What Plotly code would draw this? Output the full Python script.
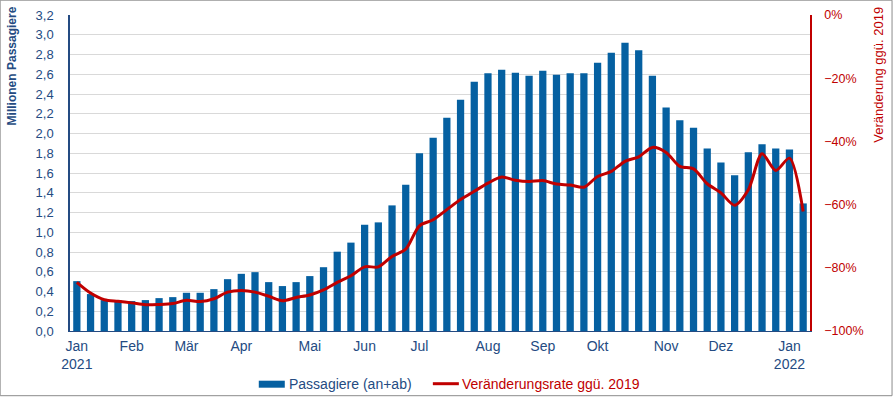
import plotly.graph_objects as go

# --- data -------------------------------------------------------------
week_index = list(range(54))
passengers_mio = [
    0.505, 0.374, 0.313, 0.313, 0.303, 0.313, 0.333, 0.343, 0.387, 0.387,
    0.424, 0.525, 0.579, 0.596, 0.495, 0.455, 0.495, 0.556, 0.646, 0.803,
    0.895, 1.076, 1.100, 1.272, 1.481, 1.799, 1.957, 2.160, 2.342, 2.525,
    2.609, 2.646, 2.616, 2.585, 2.636, 2.595, 2.609, 2.609, 2.717, 2.818,
    2.919, 2.842, 2.585, 2.264, 2.133, 2.059, 1.849, 1.707, 1.576, 1.809,
    1.890, 1.849, 1.839, 1.292,
]
change_vs_2019 = [
    -0.846, -0.880, -0.901, -0.906, -0.911, -0.917, -0.916, -0.913, -0.903, -0.907,
    -0.898, -0.877, -0.872, -0.877, -0.890, -0.904, -0.894, -0.886, -0.870, -0.846,
    -0.825, -0.797, -0.797, -0.764, -0.741, -0.667, -0.648, -0.616, -0.584, -0.558,
    -0.532, -0.513, -0.523, -0.527, -0.524, -0.535, -0.538, -0.545, -0.511, -0.495,
    -0.463, -0.449, -0.419, -0.435, -0.479, -0.487, -0.534, -0.563, -0.602, -0.553,
    -0.439, -0.492, -0.453, -0.622,
]
tick_positions = [0, 4, 8, 12, 17, 21, 25, 30, 34, 38, 43, 47, 52]
tick_labels = ["Jan<br>2021", "Feb", "Mär", "Apr", "Mai", "Jun", "Jul",
               "Aug", "Sep", "Okt", "Nov", "Dez", "Jan<br>2022"]
bar_name = "Passagiere (an+ab)"
line_name = "Veränderungsrate ggü. 2019"

BLUE = "#0560a1"
TXT = "#244b82"
RED = "#c00000"
FONT = "Liberation Sans, Arial, sans-serif"

fig = go.Figure()
fig.add_trace(go.Bar(
    x=week_index, y=passengers_mio, name=bar_name,
    marker=dict(color=BLUE, line=dict(width=0)), yaxis="y",
))
fig.add_trace(go.Scatter(
    x=week_index, y=change_vs_2019, mode="lines", name=line_name,
    line=dict(color=RED, width=3, shape="spline", smoothing=0.8), yaxis="y2",
))

# plot area in pixels: x 70.3..810, y 15.3..331.3
L, R, T, B = 70.3, 810.0, 15.3, 331.3
W, H = R - L, B - T
def px(x):
    return (x - L) / W
def py(y):
    return (B - y) / H

fig.update_layout(
    width=893, height=397,
    margin=dict(l=L, r=893 - R, t=T, b=397 - B, pad=0, autoexpand=False),
    paper_bgcolor="white", plot_bgcolor="white",
    separators=",.",
    font=dict(family=FONT, size=13, color=TXT),
    bargap=0.47,
    showlegend=False,
    xaxis=dict(range=[-0.5, 53.5], tickmode="array", tickvals=tick_positions,
               ticktext=tick_labels, showgrid=False, zeroline=False,
               showline=True, linecolor=TXT, linewidth=1, ticks="",
               tickfont=dict(size=14, color=TXT), ticklabelstandoff=2,
               automargin=False),
    yaxis=dict(range=[0, 3.2], dtick=0.2, tickformat=".1f", showgrid=True,
               gridcolor="#d9d9d9", gridwidth=1, zeroline=False,
               showline=True, linecolor=TXT, linewidth=1.5, ticks="",
               tickfont=dict(size=13, color=TXT), ticklabelstandoff=12,
               automargin=False),
    yaxis2=dict(range=[-1, 0], dtick=0.2, tickformat=".0%", overlaying="y",
                side="right", showgrid=False, zeroline=False, showline=True,
                linecolor=RED, linewidth=1.5, ticks="",
                tickfont=dict(size=12.5, color=RED), ticklabelstandoff=10,
                automargin=False),
    annotations=[
        dict(text="<b>Millionen Passagiere</b>", xref="paper", yref="paper",
             x=px(12), y=py(66), textangle=-90, showarrow=False,
             xanchor="center", yanchor="middle",
             font=dict(size=12, color=TXT)),
        dict(text="Veränderung ggü. 2019", xref="paper", yref="paper",
             x=px(879), y=py(75), textangle=-90, showarrow=False,
             xanchor="center", yanchor="middle",
             font=dict(size=13, color=RED)),
        # custom legend labels
        dict(text=bar_name, xref="paper", yref="paper",
             x=px(287), y=py(384), showarrow=False,
             xanchor="left", yanchor="middle",
             font=dict(size=14, color=TXT)),
        dict(text=line_name, xref="paper", yref="paper",
             x=px(460), y=py(384), showarrow=False,
             xanchor="left", yanchor="middle",
             font=dict(size=14, color=RED)),
    ],
    shapes=[
        dict(type="rect", xref="paper", yref="paper",
             x0=px(0.5), x1=px(892.0), y0=py(396.0), y1=py(0.5),
             line=dict(color="#8c8c8c", width=1), fillcolor="rgba(0,0,0,0)",
             layer="below"),
        # custom legend symbols
        dict(type="rect", xref="paper", yref="paper",
             x0=px(259), x1=px(285), y0=py(388), y1=py(381),
             line=dict(width=0), fillcolor=BLUE),
        dict(type="line", xref="paper", yref="paper",
             x0=px(433), x1=px(459), y0=py(384), y1=py(384),
             line=dict(color=RED, width=3)),
    ],
)

fig.write_html("out.html",
               config={"displayModeBar": False},
               post_script="document.body.style.margin='0';document.body.style.overflow='hidden';")
